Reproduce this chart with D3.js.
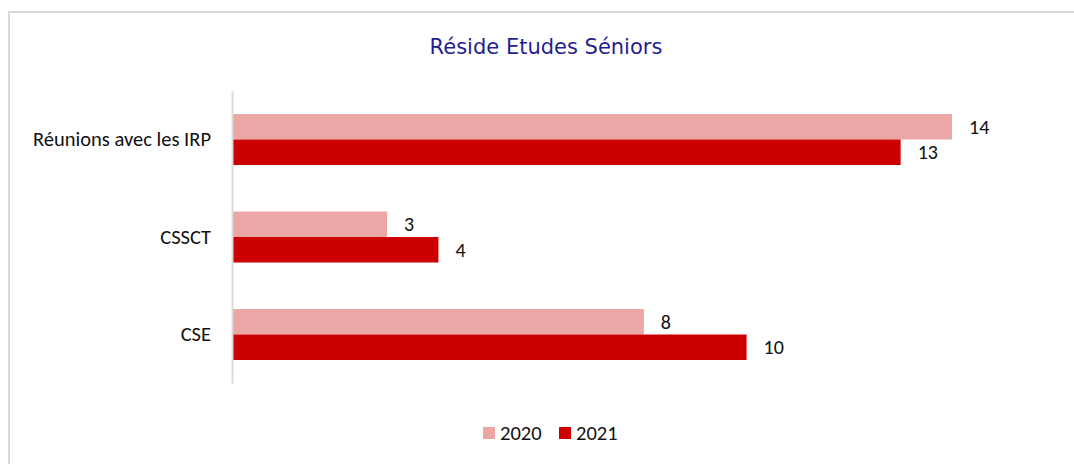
<!DOCTYPE html>
<html>
    <head>
        <meta charset="utf-8">
        <title>Réside Etudes Séniors</title>
        <script src="https://cdn.jsdelivr.net/npm/d3@7"></script>
        <style>
            body { margin: 0; background: #ffffff; }
        </style>
    </head>
    <body>
        <script type="text/javascript">

            // Data
            var categories = ["Réunions avec les IRP", "CSSCT", "CSE"];
            var series_names = ["2020", "2021"];
            var values_2020 = [14, 3, 8];
            var values_2021 = [13, 4, 10];
            var colors = ["#eba6a6", "#cc0000"];

            var svg_width = 1074;
            var svg_height = 464;
            var label_font = "Carlito, Liberation Sans, Arial, sans-serif";

            var svg = d3.select("body")
                        .append("svg")
                        .attr("width", svg_width)
                        .attr("height", svg_height);

            // Chart frame (only top and left edges visible)
            svg.append("path")
                .attr("d", "M9,464 V12 H1074")
                .attr("fill", "none")
                .attr("stroke", "#d9d9d9")
                .attr("stroke-width", 2);

            // Title
            svg.append("text")
                .attr("x", 546)
                .attr("y", 54)
                .attr("text-anchor", "middle")
                .style("font-family", "DejaVu Sans, Verdana, sans-serif")
                .style("font-size", "21px")
                .attr("fill", "#1f1f8f")
                .text("Réside Etudes Séniors");

            // Scales
            var xScale = d3.scaleLinear()
                            .domain([0, 14])
                            .range([233, 952]);

            var yScale = d3.scaleBand()
                            .domain(categories)
                            .range([90.75, 383.25]);

            var inner = d3.scaleBand()
                            .domain(series_names)
                            .range([0, 51])
                            .padding(0);

            var bar_offset = (yScale.bandwidth() - 51) / 2;

            var rows = categories.map(function(c, i) {
                return [values_2020[i], values_2021[i]];
            });

            var groups = svg.selectAll(".group")
                            .data(rows)
                            .enter()
                            .append("g")
                            .attr("class", "group")
                            .attr("transform", function(d, i) {
                                return "translate(0," + (yScale(categories[i]) + bar_offset) + ")";
                            });

            groups.selectAll("rect")
                .data(function(d) { return d; })
                .enter()
                .append("rect")
                .attr("x", xScale(0))
                .attr("y", function(d, j) { return inner(series_names[j]); })
                .attr("width", function(d) { return xScale(d) - xScale(0); })
                .attr("height", inner.bandwidth())
                .attr("fill", function(d, j) { return colors[j]; });

            // Value labels
            groups.selectAll("text")
                .data(function(d) { return d; })
                .enter()
                .append("text")
                .attr("x", function(d) { return xScale(d) + 17; })
                .attr("y", function(d, j) { return inner(series_names[j]) + inner.bandwidth() / 2; })
                .attr("dy", "0.35em")
                .style("font-family", label_font)
                .style("font-size", "20px")
                .attr("fill", "#111111")
                .text(function(d) { return d; });

            // Y axis
            var y_axis = svg.append("g")
                            .attr("transform", "translate(" + 232 + ",0)")
                            .call(d3.axisLeft(yScale).tickSize(0).tickPadding(21));

            y_axis.select(".domain")
                .attr("stroke", "#d9d9d9")
                .attr("stroke-width", 2);

            y_axis.selectAll("text")
                .style("font-family", label_font)
                .style("font-size", "20.5px")
                .attr("fill", "#111111");

            // Legend
            var legend_x = [483, 559];
            var legend = svg.selectAll(".legend")
                            .data(series_names)
                            .enter()
                            .append("g")
                            .attr("class", "legend")
                            .attr("transform", function(d, i) {
                                return "translate(" + legend_x[i] + ",427)";
                            });

            legend.append("rect")
                .attr("width", 12)
                .attr("height", 12)
                .attr("fill", function(d, i) { return colors[i]; });

            legend.append("text")
                .attr("x", 17)
                .attr("y", 6)
                .attr("dy", "0.35em")
                .style("font-family", label_font)
                .style("font-size", "20.5px")
                .attr("fill", "#111111")
                .text(function(d) { return d; });

        </script>
    </body>
</html>
